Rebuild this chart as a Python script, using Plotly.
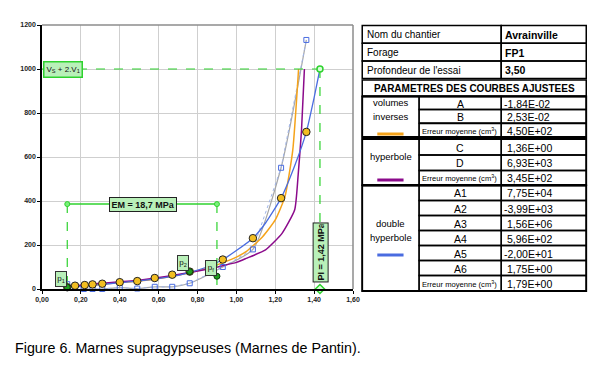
import plotly.graph_objects as go

# ---------------- data ----------------
# measured pressiometer points (pressure MPa, volume cm3)
pressure = [0.13, 0.17, 0.22, 0.26, 0.31, 0.40, 0.49, 0.58, 0.67, 0.76, 0.93, 1.085, 1.23, 1.36]
volume = [8, 15, 18, 21, 24, 31, 36, 50, 65, 79, 134, 231, 413, 714]

# creep points (blue open squares)
creep_p = [0.13, 0.215, 0.26, 0.31, 0.40, 0.49, 0.58, 0.67, 0.76, 0.93, 1.085, 1.23, 1.36]
creep_v = [22, 0, 0, 0, 6, 2, 10, 10, 26, 100, 180, 551, 1132]

# fitted curves
inv_p = [0.13, 0.30, 0.50, 0.70, 0.85, 0.93, 1.00, 1.05, 1.135, 1.20, 1.25, 1.29, 1.32]
inv_v = [8, 22, 36, 62, 95, 120, 145, 170, 238, 314, 420, 630, 1000]

hyp_p = [0.13, 0.30, 0.50, 0.70, 0.85, 0.93, 1.00, 1.05, 1.15, 1.235, 1.30, 1.318, 1.335, 1.35]
hyp_v = [11, 26, 40, 66, 90, 106, 121, 139, 178, 253, 360, 520, 720, 1000]

dbl_p = [0.13, 0.30, 0.50, 0.70, 0.76, 0.85, 0.93, 1.00, 1.085, 1.15, 1.23, 1.30, 1.36, 1.40, 1.43]
dbl_v = [6, 20, 37, 62, 76, 100, 134, 175, 231, 300, 413, 560, 714, 870, 1000]

# characteristic points
p1, v_p1 = 0.13, 8
p2, v_p2 = 0.76, 79
pf, v_pf = 0.90, 58
em_level = 386
pl_pressure = 1.43
v_limit = 1000

em_text = "EM = 18,7 MPa"
pl_text = "PI = 1,42 MPa"
vlim_text = "V<sub>S</sub> + 2.V<sub>1</sub>"

x_ticks = [0, 0.2, 0.4, 0.6, 0.8, 1.0, 1.2, 1.4, 1.6]
y_ticks = [0, 200, 400, 600, 800, 1000, 1200]

# table content
header_labels = ["Nom du chantier", "Forage", "Profondeur de l'essai"]
header_values = ["Avrainville", "FP1", "3,50"]
param_title = "PARAMETRES DES COURBES AJUSTEES"
group_names = [["volumes", "inverses"], ["hyperbole"], ["double", "hyperbole"]]
group_params = [["A", "B"], ["C", "D"], ["A1", "A2", "A3", "A4", "A5", "A6"]]
group_values = [["-1,84E-02", "2,53E-02"], ["1,36E+00", "6,93E+03"],
                ["7,75E+04", "-3,99E+03", "1,56E+06", "5,96E+02", "-2,00E+01", "1,75E+00"]]
group_errors = ["4,50E+02", "3,45E+02", "1,79E+00"]
error_label = "Erreur moyenne (cm<sup>3</sup>)"
caption = "Figure 6. Marnes supragypseuses (Marnes de Pantin)."

# ---------------- styles ----------------
ORANGE = "#F5A31A"
PURPLE = "#8B0A8B"
BLUE = "#4A6CE0"
GRAY = "#A6A6A6"
GREEN = "#2ED22E"
GOLD = "#F2BE22"
BOXGREEN = "#B9F0B9"
group_colors = [ORANGE, PURPLE, BLUE]

OFF = 8  # page body margin
W, H = 615 - OFF, 365 - OFF
L, R, T, B = 33 - OFF, 353 - OFF, 25 - OFF, 289 - OFF  # plot area in figure pixels


def px(x):
    return (x - OFF - L) / (R - L)


def py(y):
    return (B - (y - OFF)) / (B - T)


fig = go.Figure()

# creep curve (smooth gray) and dotted connection
fig.add_trace(go.Scatter(x=creep_p[1:], y=creep_v[1:], mode="lines",
                         line=dict(color=GRAY, width=1.2, shape="spline", smoothing=0.6)))
fig.add_trace(go.Scatter(x=creep_p[1:], y=creep_v[1:], mode="lines",
                         line=dict(color="#9FB4E8", width=1, dash="dot")))

# fitted curves
fig.add_trace(go.Scatter(x=inv_p, y=inv_v, mode="lines",
                         line=dict(color=ORANGE, width=1.5, shape="spline", smoothing=0.5)))
fig.add_trace(go.Scatter(x=hyp_p, y=hyp_v, mode="lines",
                         line=dict(color=PURPLE, width=1.5, shape="spline", smoothing=0.5)))
fig.add_trace(go.Scatter(x=dbl_p, y=dbl_v, mode="lines",
                         line=dict(color=BLUE, width=1.3, shape="spline", smoothing=0.5)))

# green construction lines
fig.add_trace(go.Scatter(x=[0, pl_pressure], y=[v_limit, v_limit], mode="lines",
                         line=dict(color=GREEN, width=1.2, dash="dash")))
fig.add_trace(go.Scatter(x=[pl_pressure, pl_pressure], y=[v_limit, 0], mode="lines",
                         line=dict(color=GREEN, width=1.2, dash="dash")))
fig.add_trace(go.Scatter(x=[p1, p1], y=[em_level, 0], mode="lines",
                         line=dict(color=GREEN, width=1.2, dash="dash")))
fig.add_trace(go.Scatter(x=[pf, pf], y=[em_level, 0], mode="lines",
                         line=dict(color=GREEN, width=1.2, dash="dash")))
fig.add_trace(go.Scatter(x=[p1, pf], y=[em_level, em_level], mode="lines+markers",
                         line=dict(color=GREEN, width=1.5),
                         marker=dict(size=5, color="#7CF07C", line=dict(color=GREEN, width=1))))
fig.add_trace(go.Scatter(x=[pl_pressure], y=[v_limit], mode="markers",
                         marker=dict(size=6, color="#D8FFD8", line=dict(color=GREEN, width=1.5))))
fig.add_trace(go.Scatter(x=[pl_pressure], y=[0], mode="markers", cliponaxis=False,
                         marker=dict(size=7, symbol="diamond", color="#D8FFD8",
                                     line=dict(color=GREEN, width=1.5))))

# creep squares
fig.add_trace(go.Scatter(x=creep_p, y=creep_v, mode="markers", cliponaxis=False,
                         marker=dict(symbol="square-open", size=5, color=BLUE, line=dict(width=1))))
# measured circles
fig.add_trace(go.Scatter(x=pressure, y=volume, mode="markers", cliponaxis=False,
                         marker=dict(size=7.5, color=GOLD, line=dict(color="#222", width=1))))
# p1, p2, pf points
fig.add_trace(go.Scatter(x=[p1, p2, pf], y=[v_p1, v_p2, v_pf], mode="markers", cliponaxis=False,
                         marker=dict(size=6, color="#1E9E1E", line=dict(color="#0A3A0A", width=1))))

annotations = []
# chart labels
annotations.append(dict(x=0.108, y=v_limit, xref="x", yref="y", text=vlim_text, showarrow=False,
                        font=dict(size=8, family="Arial", color="#111"),
                        bgcolor=BOXGREEN, bordercolor=GREEN, borderwidth=1.5, borderpad=2))
annotations.append(dict(x=0.52, y=em_level - 4, xref="x", yref="y", text="<b>" + em_text + "</b>",
                        showarrow=False, font=dict(size=9, family="Arial", color="#111"),
                        bgcolor=BOXGREEN, bordercolor="#222", borderwidth=1, borderpad=1.5))
annotations.append(dict(x=1.433, y=164, xref="x", yref="y", text="<b>" + pl_text + "</b>",
                        showarrow=False, textangle=-90, width=56, height=12, align="left",
                        font=dict(size=9, family="Arial", color="#111"),
                        bgcolor=BOXGREEN, bordercolor="#222", borderwidth=1, borderpad=1))
for lx, ly, sub in [(0.096, 44, "1"), (0.725, 118, "2"), (0.87, 97, "f")]:
    annotations.append(dict(x=lx, y=ly, xref="x", yref="y", text="p<sub>" + sub + "</sub>",
                            showarrow=False, width=8, height=12,
                            font=dict(size=8, family="Arial", color="#111"),
                            bgcolor=BOXGREEN, bordercolor="#333", borderwidth=1, borderpad=1))

shapes = []
# top and right gray frame of plot area
shapes.append(dict(type="line", xref="paper", yref="paper", x0=0, x1=1, y0=1, y1=1,
                   line=dict(color="#8C8C8C", width=1.5)))
shapes.append(dict(type="line", xref="paper", yref="paper", x0=1, x1=1, y0=0, y1=1,
                   line=dict(color="#8C8C8C", width=1.5)))


def rect(x0, y0, x1, y1, w=1.3):
    shapes.append(dict(type="rect", xref="paper", yref="paper", x0=px(x0), x1=px(x1),
                       y0=py(y1), y1=py(y0), line=dict(color="#000", width=w)))


def text(x, y, s, size=10, anchor="left", bold=False, xshift=0):
    annotations.append(dict(x=px(x), y=py(y), xref="paper", yref="paper",
                            text=("<b>" + s + "</b>") if bold else s, showarrow=False,
                            xanchor=anchor, yanchor="middle", xshift=xshift,
                            font=dict(size=size, family="Arial", color="#000")))


TX0, TXA, TXB, TX1 = 362.5, 421, 505.5, 593
# header block
head_rows = [(25.5, 43.3), (43.3, 61), (61, 78.5)]
for (y0, y1), lab, val in zip(head_rows, header_labels, header_values):
    rect(TX0, y0, TXB, y1, 1.5)
    rect(TXB, y0, TX1, y1, 1.5)
    text(TX0 + 3, (y0 + y1) / 2 + 0.5, lab, size=10)
    text(TXB + 2, (y0 + y1) / 2 + 0.5, val, size=10.5, bold=True)
# title row
rect(TX0, 80, TX1, 96, 1.5)
text((TX0 + TX1) / 2, 88.5, param_title, size=10, anchor="center", bold=True)

group_rows = [
    [(96.5, 109.5), (109.5, 123), (123.5, 137)],
    [(139, 155), (155, 170.5), (170.5, 185)],
    [(185.5, 200.5), (200.5, 215.5), (215.5, 230.5), (230.5, 245.5), (245.5, 260.5),
     (260.5, 275.5), (275.5, 291)],
]
group_label_y = [[103, 116.7], [156], [223.5, 237]]
legend_y = [134, 180, 255]
for gi in range(3):
    rows = group_rows[gi]
    gy0, gy1 = rows[0][0], rows[-1][1]
    rect(TX0, gy0, TX1, gy1, 1.8)
    rect(TX0, gy0, TXA, gy1, 1.3)
    labels = group_params[gi] + [error_label]
    values = group_values[gi] + [group_errors[gi]]
    for (y0, y1), lab, val in zip(rows, labels, values):
        rect(TXA, y0, TXB, y1, 1.3)
        rect(TXB, y0, TX1, y1, 1.3)
        ym = (y0 + y1) / 2 + 0.5
        if lab == error_label:
            text(TXA + 1, ym, lab, size=7.6)
        else:
            text((TXA + TXB) / 2, ym, lab, size=10.5, anchor="center")
        text(TXB + 1, ym, val, size=10.5, xshift=0 if val.startswith("-") else 3)
    for s, yy in zip(group_names[gi], group_label_y[gi]):
        text((TX0 + TXA) / 2, yy, s, size=9.5, anchor="center")
    shapes.append(dict(type="line", xref="paper", yref="paper", x0=px(378), x1=px(405),
                       y0=py(legend_y[gi]), y1=py(legend_y[gi]),
                       line=dict(color=group_colors[gi], width=3)))

# caption (centered so its span runs from about x=10 to x=357 on the page)
text(183.5, 348, caption, size=14.3, anchor="center")

fig.update_layout(
    width=W, height=H,
    margin=dict(l=L, r=W - R, t=T, b=H - B, pad=0),
    paper_bgcolor="white", plot_bgcolor="white",
    showlegend=False,
    separators=",.",
    shapes=shapes, annotations=annotations,
    xaxis=dict(range=[0, 1.6], tickvals=x_ticks, tickformat=".2f",
               showgrid=True, gridcolor="#CFCFCF", gridwidth=1.2,
               showline=True, linecolor="#000", linewidth=1.5, zeroline=False,
               ticks="outside", ticklen=3, tickcolor="#000",
               tickfont=dict(size=7, family="Arial", color="#222", weight="bold")),
    yaxis=dict(range=[0, 1200], tickvals=y_ticks, tickformat="d",
               showgrid=True, gridcolor="#CFCFCF", gridwidth=1.2,
               showline=True, linecolor="#000", linewidth=1.5, zeroline=False,
               ticks="outside", ticklen=3, tickcolor="#000",
               tickfont=dict(size=7, family="Arial", color="#222", weight="bold")),
)

fig.write_html("out.html")
